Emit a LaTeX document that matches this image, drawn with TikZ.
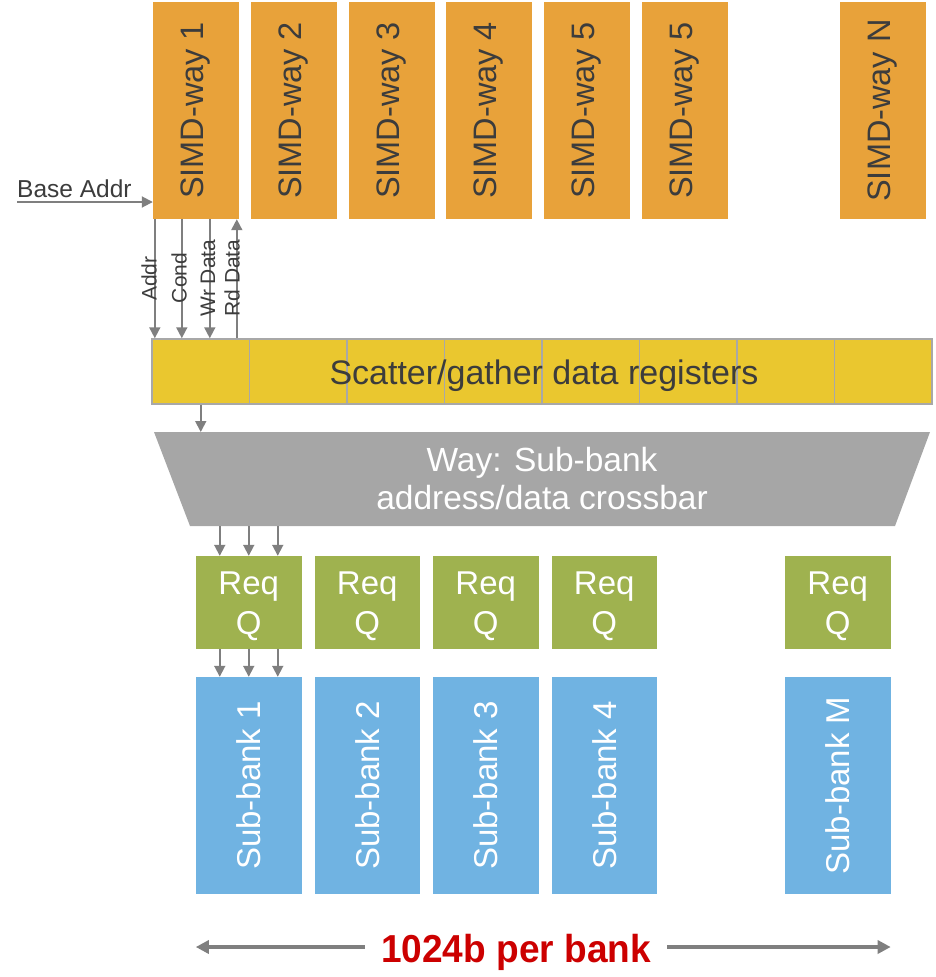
\documentclass[tikz,border=0pt]{standalone}
\usepackage{fontspec}
\setmainfont{Liberation Sans}
\usetikzlibrary{arrows.meta,calc}
\definecolor{simdor}{HTML}{E8A23A}
\definecolor{regyel}{HTML}{EAC72F}
\definecolor{regedge}{HTML}{A8A8A8}
\definecolor{xbgray}{HTML}{A6A6A6}
\definecolor{reqgreen}{HTML}{9FB24F}
\definecolor{bankblue}{HTML}{70B3E2}
\definecolor{txtdark}{HTML}{3C3C3C}
\definecolor{arrgray}{HTML}{7F7F7F}
\definecolor{bigred}{HTML}{CC0000}
\begin{document}
\begin{tikzpicture}[x=1pt,y=-1pt,
  simdbox/.style={fill=simdor,minimum width=86pt,minimum height=217pt,inner sep=0pt,
    text=txtdark,font=\fontsize{32.5}{38}\selectfont},
  regcell/.style={fill=regyel,draw=regedge,line width=1.5pt,minimum width=97.5pt,
    minimum height=65pt,inner sep=0pt},
  reqbox/.style={fill=reqgreen,minimum width=105.5pt,minimum height=93pt,inner sep=0pt,
    label={[text=white,align=center,inner sep=0pt,yshift=-4pt,
      font=\fontsize{33}{40}\selectfont]center:{Req\\Q}}},
  bankbox/.style={fill=bankblue,minimum width=105.5pt,minimum height=217pt,inner sep=0pt,
    text=white,font=\fontsize{33}{38}\selectfont},
  sig/.style={inner sep=0pt,text=txtdark,font=\fontsize{21}{24}\selectfont},
  arr/.style={draw=arrgray,line width=1.8pt,-{Triangle[length=11pt,width=11pt]}},
  bigarr/.style={draw=arrgray,line width=4pt,-{Triangle[length=13pt,width=13pt]}},
  biglbl/.style={text=bigred,font=\fontsize{39}{42}\selectfont\bfseries,
    inner xsep=16pt,inner ysep=0pt,text height=30pt,text depth=0pt}
]
\useasboundingbox (0,0) rectangle (935,977);

% SIMD ways
\node[simdbox] (s1) at (196,110.5) {\rotatebox{90}{SIMD-way 1}};
\node[simdbox] (s2) at (294,110.5) {\rotatebox{90}{SIMD-way 2}};
\node[simdbox] (s3) at (392,110.5) {\rotatebox{90}{SIMD-way 3}};
\node[simdbox] (s4) at (489,110.5) {\rotatebox{90}{SIMD-way 4}};
\node[simdbox] (s5) at (587,110.5) {\rotatebox{90}{SIMD-way 5}};
\node[simdbox] (s6) at (685,110.5) {\rotatebox{90}{SIMD-way 5}};
\node[simdbox] (sN) at (883,110.5) {\rotatebox{90}{SIMD-way N}};

% Base Addr
\node[anchor=base west,inner sep=0pt,text=txtdark,font=\fontsize{24.5}{28}\selectfont] (ba) at (17,197) {Base Addr};
\coordinate (bas) at ([yshift=-5pt]ba.base west);
\draw[arr] (bas) -- (bas -| s1.west);

% Scatter/gather registers
\foreach \i in {1,...,8}{
  \node[regcell] (r\i) at ({152+48.75+(\i-1)*97.5},371.5) {};
}
\node[inner sep=0pt,text=txtdark,font=\fontsize{34}{38}\selectfont] (sg) at (544,376) {Scatter/gather data registers};

% signal arrows
\coordinate (pa) at ([xshift=2pt]s1.south west);
\coordinate (pc) at ([xshift=29pt]s1.south west);
\coordinate (pw) at ([xshift=57pt]s1.south west);
\coordinate (pr) at ([xshift=84pt]s1.south west);
\draw[arr] (pa) -- (pa |- r1.north);
\draw[arr] (pc) -- (pc |- r1.north);
\draw[arr] (pw) -- (pw |- r1.north);
\draw[arr] (pr |- r1.north) -- (pr);
\node[sig] (laddr) at (149,278.5) {\rotatebox{90}{Addr}};
\node[sig] (lcond) at (179,278) {\rotatebox{90}{Cond}};
\node[sig] (lwr) at (208,278) {\rotatebox{90}{Wr Data}};
\node[sig] (lrd) at (232,278) {\rotatebox{90}{Rd Data}};

% crossbar
\fill[xbgray] (154,432) -- (930,432) -- (895,526) -- (190,526) -- cycle;
\coordinate (xbt) at (542,432);
\coordinate (xbb) at (542,526);
\node[inner sep=0pt,text=white,align=center,font=\fontsize{33.5}{38}\selectfont] (xbar) at (542,479) {Way: Sub-bank\\address/data crossbar};
\draw[arr] (r1.south) -- (r1.south |- xbt);

% Req Q
\node[reqbox] (q1) at (248.75,602.5) {};
\node[reqbox] (q2) at (367.25,602.5) {};
\node[reqbox] (q3) at (485.75,602.5) {};
\node[reqbox] (q4) at (604.25,602.5) {};
\node[reqbox] (qM) at (837.75,602.5) {};

% Sub-banks
\node[bankbox] (b1) at (248.75,785.5) {\rotatebox{90}{Sub-bank 1}};
\node[bankbox] (b2) at (367.25,785.5) {\rotatebox{90}{Sub-bank 2}};
\node[bankbox] (b3) at (485.75,785.5) {\rotatebox{90}{Sub-bank 3}};
\node[bankbox] (b4) at (604.25,785.5) {\rotatebox{90}{Sub-bank 4}};
\node[bankbox] (bM) at (837.75,785.5) {\rotatebox{90}{Sub-bank M}};

% crossbar -> ReqQ1 -> Sub-bank 1
\foreach \d in {-29,0,29}{
  \draw[arr] ([xshift=\d pt]q1.north |- xbb) -- ([xshift=\d pt]q1.north);
  \draw[arr] ([xshift=\d pt]q1.south) -- ([xshift=\d pt]b1.north);
}

% bottom dimension
\node[biglbl] (bw) at (516,947) {\scalebox{0.95}[1]{1024b per bank}};
\draw[bigarr] (bw.west) -- (bw.west -| b1.west);
\draw[bigarr] (bw.east) -- (bw.east -| bM.east);
\end{tikzpicture}
\end{document}
